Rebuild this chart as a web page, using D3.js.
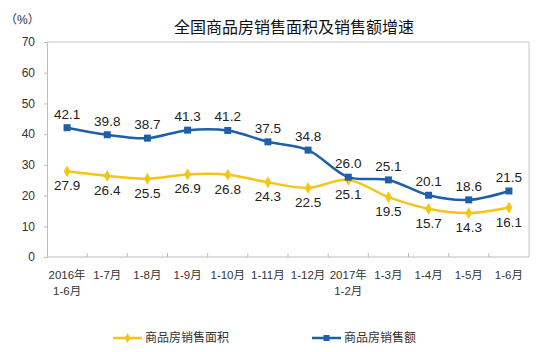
<!DOCTYPE html>
<html>
<head>
<meta charset="utf-8">
<script src="https://cdn.jsdelivr.net/npm/d3@7"></script>
<style>
	body { margin: 0; background: #fff; }
	svg { display: block; font-family: "Liberation Sans", Arial, "Noto Sans CJK SC", sans-serif; }
</style>
</head>
<body>
<div id="chart"></div>
<script>
// categories (two-line labels)
const categories = [
	["2016年", "1-6月"], ["1-7月"], ["1-8月"], ["1-9月"], ["1-10月"], ["1-11月"],
	["1-12月"], ["2017年", "1-2月"], ["1-3月"], ["1-4月"], ["1-5月"], ["1-6月"]
];
const areaGrowth = [27.9, 26.4, 25.5, 26.9, 26.8, 24.3, 22.5, 25.1, 19.5, 15.7, 14.3, 16.1];
const salesGrowth = [42.1, 39.8, 38.7, 41.3, 41.2, 37.5, 34.8, 26.0, 25.1, 20.1, 18.6, 21.5];
const yTicks = [0, 10, 20, 30, 40, 50, 60, 70];

const width = 549, height = 352;
const margin = {top: 42, right: 20, bottom: 95, left: 47};
const yellow = "#f3c614", blue = "#1f5fa8";

const svg = d3.select("#chart").append("svg")
	.attr("width", width)
	.attr("height", height);

let x = d3.scaleBand()
	.domain(d3.range(categories.length))
	.range([margin.left, width - margin.right]);
let y = d3.scaleLinear()
	.domain([0, 70])
	.range([height - margin.bottom, margin.top]);
let cx = i => x(i) + x.bandwidth() / 2;

// title
svg.append("text")
	.attr("x", 294).attr("y", 33)
	.attr("text-anchor", "middle")
	.attr("font-size", 16)
	.attr("fill", "#111")
	.text("全国商品房销售面积及销售额增速");

svg.append("text")
	.attr("x", 5).attr("y", 24)
	.attr("font-size", 12)
	.attr("fill", "#333")
	.text("（%）");

// frame top/right
svg.append("path")
	.attr("d", `M${margin.left},${y(70)}H${width - margin.right}V${y(0)}`)
	.attr("fill", "none")
	.attr("stroke", "#c8c8c8");

// y axis
let yAxis = svg.append("g")
	.attr("transform", `translate(${margin.left},0)`)
	.call(d3.axisLeft(y).tickValues(yTicks).tickSize(3).tickPadding(9));
yAxis.select(".domain").attr("stroke", "#bdbdbd");
yAxis.selectAll(".tick line").attr("stroke", "#bdbdbd");
yAxis.selectAll(".tick text").attr("font-size", 12).attr("fill", "#333");

// x axis with boundary ticks
let xAxis = svg.append("g")
	.attr("transform", `translate(0,${y(0)})`);
xAxis.append("line")
	.attr("x1", margin.left).attr("x2", width - margin.right)
	.attr("stroke", "#bdbdbd");
xAxis.selectAll(".bt")
	.data(d3.range(1, categories.length))
	.enter().append("line")
	.attr("x1", i => x(i)).attr("x2", i => x(i))
	.attr("y1", 0).attr("y2", -4)
	.attr("stroke", "#bdbdbd");
let xl = xAxis.selectAll(".xl")
	.data(categories)
	.enter().append("text")
	.attr("text-anchor", "middle")
	.attr("font-size", 11.5)
	.attr("fill", "#333")
	.attr("transform", (d, i) => `translate(${cx(i)},22)`);
xl.selectAll("tspan")
	.data(d => d)
	.enter().append("tspan")
	.attr("x", 0)
	.attr("dy", (d, j) => j ? 16 : 0)
	.text(d => d);

let line = d3.line()
	.x((d, i) => cx(i))
	.y(d => y(d))
	.curve(d3.curveCatmullRom.alpha(0.5));

// area series (yellow, diamonds, labels below)
svg.append("path")
	.attr("d", line(areaGrowth))
	.attr("fill", "none")
	.attr("stroke", yellow)
	.attr("stroke-width", 2.5);
svg.selectAll(".dm")
	.data(areaGrowth)
	.enter().append("path")
	.attr("d", d3.symbol(d3.symbolDiamond, 40))
	.attr("transform", (d, i) => `translate(${cx(i)},${y(d)})`)
	.attr("fill", yellow);
svg.selectAll(".la")
	.data(areaGrowth)
	.enter().append("text")
	.attr("x", (d, i) => cx(i))
	.attr("y", d => y(d) + 19)
	.attr("text-anchor", "middle")
	.attr("font-size", 13.5)
	.attr("fill", "#222")
	.text(d => d.toFixed(1));

// sales series (blue, squares, labels above)
svg.append("path")
	.attr("d", line(salesGrowth))
	.attr("fill", "none")
	.attr("stroke", blue)
	.attr("stroke-width", 2.5);
svg.selectAll(".sq")
	.data(salesGrowth)
	.enter().append("rect")
	.attr("x", (d, i) => cx(i) - 3.5)
	.attr("y", d => y(d) - 3.5)
	.attr("width", 7).attr("height", 7)
	.attr("fill", blue);
svg.selectAll(".lb")
	.data(salesGrowth)
	.enter().append("text")
	.attr("x", (d, i) => cx(i))
	.attr("y", d => y(d) - 9)
	.attr("text-anchor", "middle")
	.attr("font-size", 13.5)
	.attr("fill", "#222")
	.text(d => d.toFixed(1));

// legend
let legend = [
	{name: "商品房销售面积", color: yellow, x: 113, sym: "diamond"},
	{name: "商品房销售额", color: blue, x: 312, sym: "square"}
];
let lg = svg.selectAll(".lg")
	.data(legend)
	.enter().append("g")
	.attr("transform", d => `translate(${d.x},338)`);
lg.append("line")
	.attr("x1", 0).attr("x2", 29)
	.attr("stroke", d => d.color)
	.attr("stroke-width", 2.5);
lg.append("path")
	.attr("d", d => d3.symbol(d.sym === "diamond" ? d3.symbolDiamond : d3.symbolSquare, d.sym === "diamond" ? 30 : 36)())
	.attr("transform", "translate(14.5,0)")
	.attr("fill", d => d.color);
lg.append("text")
	.attr("x", 32).attr("y", 4)
	.attr("font-size", 12)
	.attr("fill", "#333")
	.text(d => d.name);
</script>
</body>
</html>
